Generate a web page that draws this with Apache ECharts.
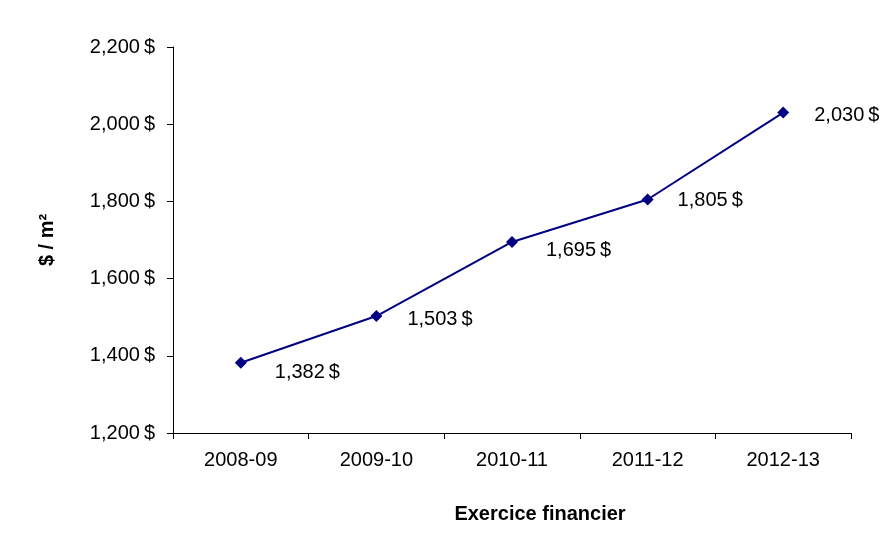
<!DOCTYPE html>
<html>
<head>
<meta charset="utf-8">
<script src="https://cdn.jsdelivr.net/npm/echarts@6/dist/echarts.min.js"></script>
<style>html,body{margin:0;padding:0;background:#fff;}#c{width:880px;height:556px;}</style>
</head>
<body>
<div id="c"></div>
<script>
const categories = ['2008-09', '2009-10', '2010-11', '2011-12', '2012-13'];
const costPerM2 = [1382, 1503, 1695, 1805, 2030];
const yTicks = [1200, 1400, 1600, 1800, 2000, 2200];

// label placement style (Excel-like right-side labels)
const labelOffsets = [[34, 10], [31, 3], [34, 9], [30, 1], [31, 3]];

function fmt(v) {
  return v.toLocaleString('en-US') + '\u2009$';
}

const font = '"Liberation Sans", Arial, sans-serif';
const chart = echarts.init(document.getElementById('c'), null, {renderer: 'canvas'});
chart.setOption({
  animation: false,
  backgroundColor: '#ffffff',
  grid: {left: 173, right: 29, top: 47, bottom: 123, containLabel: false},
  xAxis: {
    type: 'category',
    data: categories,
    boundaryGap: true,
    name: 'Exercice financier',
    nameLocation: 'middle',
    nameGap: 71,
    nameTextStyle: {fontFamily: font, fontSize: 20, fontWeight: 'bold', color: '#000', padding: [0, 0, 0, 56]},
    axisLine: {lineStyle: {color: '#000', width: 1}},
    axisTick: {show: true, alignWithLabel: false, length: 6, lineStyle: {color: '#000'}},
    axisLabel: {fontFamily: font, fontSize: 20, color: '#000', margin: 17},
    splitLine: {show: false}
  },
  yAxis: {
    type: 'value',
    min: yTicks[0],
    max: yTicks[yTicks.length - 1],
    interval: 200,
    name: '$ / m²',
    nameLocation: 'middle',
    nameGap: 116,
    nameRotate: 90,
    nameTextStyle: {fontFamily: font, fontSize: 20, fontWeight: 'bold', color: '#000'},
    axisLine: {show: true, lineStyle: {color: '#000', width: 1}},
    axisTick: {show: true, length: 6, lineStyle: {color: '#000'}},
    axisLabel: {fontFamily: font, fontSize: 20, color: '#000', margin: 18, formatter: v => fmt(v)},
    splitLine: {show: false}
  },
  series: [{
    type: 'line',
    data: costPerM2.map((v, i) => ({
      value: v,
      label: {offset: labelOffsets[i]}
    })),
    symbol: 'diamond',
    symbolSize: 12,
    lineStyle: {color: '#000080', width: 2},
    itemStyle: {color: '#000080'},
    label: {
      show: true,
      position: 'inside',
      align: 'left',
      verticalAlign: 'middle',
      fontFamily: font,
      fontSize: 20,
      color: '#000',
      formatter: p => fmt(p.value)
    }
  }]
});
</script>
</body>
</html>
